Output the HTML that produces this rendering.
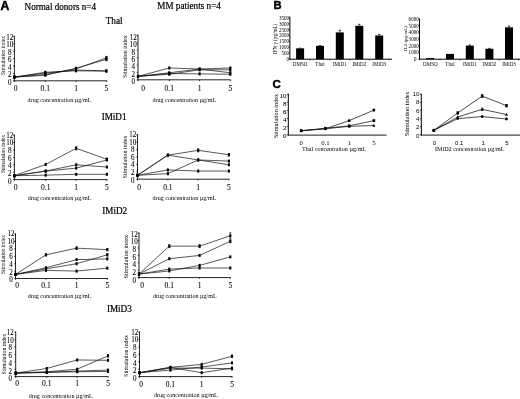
<!DOCTYPE html>
<html><head><meta charset="utf-8"><style>
html,body{margin:0;padding:0;background:#fff;width:520px;height:399px;overflow:hidden;}
svg{display:block;filter:blur(0.6px);}

</style></head><body>
<svg width="520" height="399" viewBox="0 0 520 399">
<rect width="520" height="399" fill="#fff"/>
<text x="0.60" y="9.60" font-size="12.2" font-family="'Liberation Sans', sans-serif" font-weight="bold" text-anchor="start" fill="#000" stroke="#000" stroke-width="0.5">A</text>
<text x="24.60" y="9.70" font-size="9.8" font-family="'Liberation Serif', serif" font-weight="normal" text-anchor="start" fill="#000"  stroke="#000" stroke-width="0.22" transform="translate(24.60 0) scale(0.93 1) translate(-24.60 0)">Normal donors n=4</text>
<text x="157.30" y="9.30" font-size="9.8" font-family="'Liberation Serif', serif" font-weight="normal" text-anchor="start" fill="#000"  stroke="#000" stroke-width="0.22" transform="translate(157.30 0) scale(0.935 1) translate(-157.30 0)">MM patients n=4</text>
<text x="105.80" y="23.60" font-size="9.6" font-family="'Liberation Serif', serif" font-weight="normal" text-anchor="start" fill="#000"  stroke="#000" stroke-width="0.22" transform="translate(105.80 0) scale(0.95 1) translate(-105.80 0)">Thal</text>
<text x="101.70" y="120.40" font-size="9.6" font-family="'Liberation Serif', serif" font-weight="normal" text-anchor="start" fill="#000"  stroke="#000" stroke-width="0.22" transform="translate(101.70 0) scale(0.95 1) translate(-101.70 0)">IMiD1</text>
<text x="102.30" y="213.70" font-size="9.6" font-family="'Liberation Serif', serif" font-weight="normal" text-anchor="start" fill="#000"  stroke="#000" stroke-width="0.22" transform="translate(102.30 0) scale(0.95 1) translate(-102.30 0)">IMiD2</text>
<text x="106.90" y="312.00" font-size="9.6" font-family="'Liberation Serif', serif" font-weight="normal" text-anchor="start" fill="#000"  stroke="#000" stroke-width="0.22" transform="translate(106.90 0) scale(0.95 1) translate(-106.90 0)">IMiD3</text>
<line x1="14.40" y1="35.60" x2="14.40" y2="81.30" stroke="#1a1a1a" stroke-width="0.95"/>
<line x1="13.90" y1="80.80" x2="106.90" y2="80.80" stroke="#1a1a1a" stroke-width="0.95"/>
<line x1="13.20" y1="80.80" x2="14.40" y2="80.80" stroke="#000" stroke-width="0.8"/>
<text x="9.80" y="84.90" font-size="7.8" font-family="'Liberation Serif', serif" font-weight="normal" text-anchor="middle" fill="#000"  stroke="#000" stroke-width="0.08" transform="translate(9.80 0) scale(0.9 1) translate(-9.80 0)">0</text>
<line x1="13.20" y1="73.40" x2="14.40" y2="73.40" stroke="#000" stroke-width="0.8"/>
<text x="9.80" y="77.40" font-size="7.8" font-family="'Liberation Serif', serif" font-weight="normal" text-anchor="middle" fill="#000"  stroke="#000" stroke-width="0.08" transform="translate(9.80 0) scale(0.9 1) translate(-9.80 0)">2</text>
<line x1="13.20" y1="66.00" x2="14.40" y2="66.00" stroke="#000" stroke-width="0.8"/>
<text x="9.80" y="69.90" font-size="7.8" font-family="'Liberation Serif', serif" font-weight="normal" text-anchor="middle" fill="#000"  stroke="#000" stroke-width="0.08" transform="translate(9.80 0) scale(0.9 1) translate(-9.80 0)">4</text>
<line x1="13.20" y1="58.60" x2="14.40" y2="58.60" stroke="#000" stroke-width="0.8"/>
<text x="9.80" y="62.40" font-size="7.8" font-family="'Liberation Serif', serif" font-weight="normal" text-anchor="middle" fill="#000"  stroke="#000" stroke-width="0.08" transform="translate(9.80 0) scale(0.9 1) translate(-9.80 0)">6</text>
<line x1="13.20" y1="51.20" x2="14.40" y2="51.20" stroke="#000" stroke-width="0.8"/>
<text x="9.80" y="54.90" font-size="7.8" font-family="'Liberation Serif', serif" font-weight="normal" text-anchor="middle" fill="#000"  stroke="#000" stroke-width="0.08" transform="translate(9.80 0) scale(0.9 1) translate(-9.80 0)">8</text>
<line x1="13.20" y1="43.80" x2="14.40" y2="43.80" stroke="#000" stroke-width="0.8"/>
<text x="9.80" y="47.40" font-size="7.8" font-family="'Liberation Serif', serif" font-weight="normal" text-anchor="middle" fill="#000"  stroke="#000" stroke-width="0.08" transform="translate(9.80 0) scale(0.9 1) translate(-9.80 0)">10</text>
<line x1="13.20" y1="36.40" x2="14.40" y2="36.40" stroke="#000" stroke-width="0.8"/>
<text x="9.80" y="39.90" font-size="7.8" font-family="'Liberation Serif', serif" font-weight="normal" text-anchor="middle" fill="#000"  stroke="#000" stroke-width="0.08" transform="translate(9.80 0) scale(0.9 1) translate(-9.80 0)">12</text>
<line x1="14.40" y1="80.80" x2="14.40" y2="82.00" stroke="#000" stroke-width="0.8"/>
<text x="15.70" y="91.10" font-size="7.5" font-family="'Liberation Serif', serif" font-weight="normal" text-anchor="middle" fill="#000"  stroke="#000" stroke-width="0.08">0</text>
<line x1="45.30" y1="80.80" x2="45.30" y2="82.00" stroke="#000" stroke-width="0.8"/>
<text x="45.30" y="91.10" font-size="7.5" font-family="'Liberation Serif', serif" font-weight="normal" text-anchor="middle" fill="#000"  stroke="#000" stroke-width="0.08">0.1</text>
<line x1="76.00" y1="80.80" x2="76.00" y2="82.00" stroke="#000" stroke-width="0.8"/>
<text x="76.00" y="91.10" font-size="7.5" font-family="'Liberation Serif', serif" font-weight="normal" text-anchor="middle" fill="#000"  stroke="#000" stroke-width="0.08">1</text>
<line x1="106.40" y1="80.80" x2="106.40" y2="82.00" stroke="#000" stroke-width="0.8"/>
<text x="106.40" y="91.10" font-size="7.5" font-family="'Liberation Serif', serif" font-weight="normal" text-anchor="middle" fill="#000"  stroke="#000" stroke-width="0.08">5</text>
<text x="59.50" y="101.90" font-size="6.5" font-family="'Liberation Serif', serif" font-weight="normal" text-anchor="middle" fill="#000"  transform="translate(59.50 0) scale(0.935 1) translate(-59.50 0)">drug concentration µg/mL</text>
<text x="5.00" y="55.50" font-size="5.45" font-family="'Liberation Serif', serif" font-weight="normal" text-anchor="middle" fill="#000" transform="rotate(-90 5.00 55.50)">Stimulation index</text>
<polyline points="14.40,77.10 45.30,75.25 76.00,68.22 106.40,59.34" fill="none" stroke="#111" stroke-width="0.7" stroke-linejoin="round"/>
<rect x="13.35" y="75.60" width="2.1" height="3.0" fill="#000"/>
<rect x="44.25" y="73.75" width="2.1" height="3.0" fill="#000"/>
<rect x="74.95" y="66.72" width="2.1" height="3.0" fill="#000"/>
<rect x="105.35" y="57.84" width="2.1" height="3.0" fill="#000"/>
<line x1="106.40" y1="57.86" x2="106.40" y2="60.82" stroke="#111" stroke-width="0.7"/>
<line x1="105.30" y1="57.86" x2="107.50" y2="57.86" stroke="#111" stroke-width="0.7"/>
<line x1="105.30" y1="60.82" x2="107.50" y2="60.82" stroke="#111" stroke-width="0.7"/>
<polyline points="14.40,77.10 45.30,74.51 76.00,68.96 106.40,57.86" fill="none" stroke="#111" stroke-width="0.7" stroke-linejoin="round"/>
<rect x="13.35" y="75.60" width="2.1" height="3.0" fill="#000"/>
<rect x="44.25" y="73.01" width="2.1" height="3.0" fill="#000"/>
<rect x="74.95" y="67.46" width="2.1" height="3.0" fill="#000"/>
<rect x="105.35" y="56.36" width="2.1" height="3.0" fill="#000"/>
<line x1="106.40" y1="56.38" x2="106.40" y2="59.34" stroke="#111" stroke-width="0.7"/>
<line x1="105.30" y1="56.38" x2="107.50" y2="56.38" stroke="#111" stroke-width="0.7"/>
<line x1="105.30" y1="59.34" x2="107.50" y2="59.34" stroke="#111" stroke-width="0.7"/>
<polyline points="14.40,77.10 45.30,72.29 76.00,70.81 106.40,71.18" fill="none" stroke="#111" stroke-width="0.7" stroke-linejoin="round"/>
<rect x="13.35" y="75.60" width="2.1" height="3.0" fill="#000"/>
<rect x="44.25" y="70.79" width="2.1" height="3.0" fill="#000"/>
<rect x="74.95" y="69.31" width="2.1" height="3.0" fill="#000"/>
<rect x="105.35" y="69.68" width="2.1" height="3.0" fill="#000"/>
<polyline points="14.40,77.10 45.30,73.03 76.00,70.07 106.40,70.81" fill="none" stroke="#111" stroke-width="0.7" stroke-linejoin="round"/>
<rect x="13.35" y="75.60" width="2.1" height="3.0" fill="#000"/>
<rect x="44.25" y="71.53" width="2.1" height="3.0" fill="#000"/>
<rect x="74.95" y="68.57" width="2.1" height="3.0" fill="#000"/>
<rect x="105.35" y="69.31" width="2.1" height="3.0" fill="#000"/>
<line x1="14.40" y1="134.40" x2="14.40" y2="180.10" stroke="#1a1a1a" stroke-width="0.95"/>
<line x1="13.90" y1="179.60" x2="107.40" y2="179.60" stroke="#1a1a1a" stroke-width="0.95"/>
<line x1="13.20" y1="179.60" x2="14.40" y2="179.60" stroke="#000" stroke-width="0.8"/>
<text x="9.80" y="183.70" font-size="7.8" font-family="'Liberation Serif', serif" font-weight="normal" text-anchor="middle" fill="#000"  stroke="#000" stroke-width="0.08" transform="translate(9.80 0) scale(0.9 1) translate(-9.80 0)">0</text>
<line x1="13.20" y1="172.20" x2="14.40" y2="172.20" stroke="#000" stroke-width="0.8"/>
<text x="9.80" y="176.02" font-size="7.8" font-family="'Liberation Serif', serif" font-weight="normal" text-anchor="middle" fill="#000"  stroke="#000" stroke-width="0.08" transform="translate(9.80 0) scale(0.9 1) translate(-9.80 0)">2</text>
<line x1="13.20" y1="164.80" x2="14.40" y2="164.80" stroke="#000" stroke-width="0.8"/>
<text x="9.80" y="168.33" font-size="7.8" font-family="'Liberation Serif', serif" font-weight="normal" text-anchor="middle" fill="#000"  stroke="#000" stroke-width="0.08" transform="translate(9.80 0) scale(0.9 1) translate(-9.80 0)">4</text>
<line x1="13.20" y1="157.40" x2="14.40" y2="157.40" stroke="#000" stroke-width="0.8"/>
<text x="9.80" y="160.65" font-size="7.8" font-family="'Liberation Serif', serif" font-weight="normal" text-anchor="middle" fill="#000"  stroke="#000" stroke-width="0.08" transform="translate(9.80 0) scale(0.9 1) translate(-9.80 0)">6</text>
<line x1="13.20" y1="150.00" x2="14.40" y2="150.00" stroke="#000" stroke-width="0.8"/>
<text x="9.80" y="152.97" font-size="7.8" font-family="'Liberation Serif', serif" font-weight="normal" text-anchor="middle" fill="#000"  stroke="#000" stroke-width="0.08" transform="translate(9.80 0) scale(0.9 1) translate(-9.80 0)">8</text>
<line x1="13.20" y1="142.60" x2="14.40" y2="142.60" stroke="#000" stroke-width="0.8"/>
<text x="9.80" y="145.28" font-size="7.8" font-family="'Liberation Serif', serif" font-weight="normal" text-anchor="middle" fill="#000"  stroke="#000" stroke-width="0.08" transform="translate(9.80 0) scale(0.9 1) translate(-9.80 0)">10</text>
<line x1="13.20" y1="135.20" x2="14.40" y2="135.20" stroke="#000" stroke-width="0.8"/>
<text x="9.80" y="137.60" font-size="7.8" font-family="'Liberation Serif', serif" font-weight="normal" text-anchor="middle" fill="#000"  stroke="#000" stroke-width="0.08" transform="translate(9.80 0) scale(0.9 1) translate(-9.80 0)">12</text>
<line x1="14.40" y1="179.60" x2="14.40" y2="180.80" stroke="#000" stroke-width="0.8"/>
<text x="15.70" y="189.70" font-size="7.5" font-family="'Liberation Serif', serif" font-weight="normal" text-anchor="middle" fill="#000"  stroke="#000" stroke-width="0.08">0</text>
<line x1="45.70" y1="179.60" x2="45.70" y2="180.80" stroke="#000" stroke-width="0.8"/>
<text x="45.70" y="189.70" font-size="7.5" font-family="'Liberation Serif', serif" font-weight="normal" text-anchor="middle" fill="#000"  stroke="#000" stroke-width="0.08">0.1</text>
<line x1="76.20" y1="179.60" x2="76.20" y2="180.80" stroke="#000" stroke-width="0.8"/>
<text x="76.20" y="189.70" font-size="7.5" font-family="'Liberation Serif', serif" font-weight="normal" text-anchor="middle" fill="#000"  stroke="#000" stroke-width="0.08">1</text>
<line x1="106.90" y1="179.60" x2="106.90" y2="180.80" stroke="#000" stroke-width="0.8"/>
<text x="106.90" y="189.70" font-size="7.5" font-family="'Liberation Serif', serif" font-weight="normal" text-anchor="middle" fill="#000"  stroke="#000" stroke-width="0.08">5</text>
<text x="59.60" y="200.20" font-size="6.5" font-family="'Liberation Serif', serif" font-weight="normal" text-anchor="middle" fill="#000"  transform="translate(59.60 0) scale(0.935 1) translate(-59.60 0)">drug concentration µg/mL</text>
<text x="4.70" y="154.00" font-size="5.36" font-family="'Liberation Serif', serif" font-weight="normal" text-anchor="middle" fill="#000" transform="rotate(-90 4.70 154.00)">Stimulation index</text>
<polyline points="14.40,175.72 45.70,164.43 76.20,148.33 106.90,159.25" fill="none" stroke="#111" stroke-width="0.7" stroke-linejoin="round"/>
<rect x="13.35" y="174.22" width="2.1" height="3.0" fill="#000"/>
<rect x="44.65" y="162.93" width="2.1" height="3.0" fill="#000"/>
<rect x="75.15" y="146.83" width="2.1" height="3.0" fill="#000"/>
<line x1="76.20" y1="146.67" x2="76.20" y2="150.00" stroke="#111" stroke-width="0.7"/>
<line x1="75.10" y1="146.67" x2="77.30" y2="146.67" stroke="#111" stroke-width="0.7"/>
<line x1="75.10" y1="150.00" x2="77.30" y2="150.00" stroke="#111" stroke-width="0.7"/>
<rect x="105.85" y="157.75" width="2.1" height="3.0" fill="#000"/>
<line x1="106.90" y1="158.14" x2="106.90" y2="160.36" stroke="#111" stroke-width="0.7"/>
<line x1="105.80" y1="158.14" x2="108.00" y2="158.14" stroke="#111" stroke-width="0.7"/>
<line x1="105.80" y1="160.36" x2="108.00" y2="160.36" stroke="#111" stroke-width="0.7"/>
<polyline points="14.40,175.72 45.70,171.09 76.20,164.80 106.90,167.02" fill="none" stroke="#111" stroke-width="0.7" stroke-linejoin="round"/>
<rect x="13.35" y="174.22" width="2.1" height="3.0" fill="#000"/>
<rect x="44.65" y="169.59" width="2.1" height="3.0" fill="#000"/>
<rect x="75.15" y="163.30" width="2.1" height="3.0" fill="#000"/>
<rect x="105.85" y="165.52" width="2.1" height="3.0" fill="#000"/>
<polyline points="14.40,175.72 45.70,171.09 76.20,168.13 106.90,159.99" fill="none" stroke="#111" stroke-width="0.7" stroke-linejoin="round"/>
<rect x="13.35" y="174.22" width="2.1" height="3.0" fill="#000"/>
<rect x="44.65" y="169.59" width="2.1" height="3.0" fill="#000"/>
<rect x="75.15" y="166.63" width="2.1" height="3.0" fill="#000"/>
<rect x="105.85" y="158.49" width="2.1" height="3.0" fill="#000"/>
<polyline points="14.40,175.72 45.70,175.16 76.20,174.31 106.90,174.31" fill="none" stroke="#111" stroke-width="0.7" stroke-linejoin="round"/>
<rect x="13.35" y="174.22" width="2.1" height="3.0" fill="#000"/>
<rect x="44.65" y="173.66" width="2.1" height="3.0" fill="#000"/>
<rect x="75.15" y="172.81" width="2.1" height="3.0" fill="#000"/>
<rect x="105.85" y="172.81" width="2.1" height="3.0" fill="#000"/>
<line x1="15.50" y1="233.30" x2="15.50" y2="279.00" stroke="#1a1a1a" stroke-width="0.95"/>
<line x1="15.00" y1="278.50" x2="107.80" y2="278.50" stroke="#1a1a1a" stroke-width="0.95"/>
<line x1="14.30" y1="278.50" x2="15.50" y2="278.50" stroke="#000" stroke-width="0.8"/>
<text x="10.90" y="282.50" font-size="7.8" font-family="'Liberation Serif', serif" font-weight="normal" text-anchor="middle" fill="#000"  stroke="#000" stroke-width="0.08" transform="translate(10.90 0) scale(0.9 1) translate(-10.90 0)">0</text>
<line x1="14.30" y1="271.10" x2="15.50" y2="271.10" stroke="#000" stroke-width="0.8"/>
<text x="10.90" y="274.75" font-size="7.8" font-family="'Liberation Serif', serif" font-weight="normal" text-anchor="middle" fill="#000"  stroke="#000" stroke-width="0.08" transform="translate(10.90 0) scale(0.9 1) translate(-10.90 0)">2</text>
<line x1="14.30" y1="263.70" x2="15.50" y2="263.70" stroke="#000" stroke-width="0.8"/>
<text x="10.90" y="267.00" font-size="7.8" font-family="'Liberation Serif', serif" font-weight="normal" text-anchor="middle" fill="#000"  stroke="#000" stroke-width="0.08" transform="translate(10.90 0) scale(0.9 1) translate(-10.90 0)">4</text>
<line x1="14.30" y1="256.30" x2="15.50" y2="256.30" stroke="#000" stroke-width="0.8"/>
<text x="10.90" y="259.25" font-size="7.8" font-family="'Liberation Serif', serif" font-weight="normal" text-anchor="middle" fill="#000"  stroke="#000" stroke-width="0.08" transform="translate(10.90 0) scale(0.9 1) translate(-10.90 0)">6</text>
<line x1="14.30" y1="248.90" x2="15.50" y2="248.90" stroke="#000" stroke-width="0.8"/>
<text x="10.90" y="251.50" font-size="7.8" font-family="'Liberation Serif', serif" font-weight="normal" text-anchor="middle" fill="#000"  stroke="#000" stroke-width="0.08" transform="translate(10.90 0) scale(0.9 1) translate(-10.90 0)">8</text>
<line x1="14.30" y1="241.50" x2="15.50" y2="241.50" stroke="#000" stroke-width="0.8"/>
<text x="10.90" y="243.75" font-size="7.8" font-family="'Liberation Serif', serif" font-weight="normal" text-anchor="middle" fill="#000"  stroke="#000" stroke-width="0.08" transform="translate(10.90 0) scale(0.9 1) translate(-10.90 0)">10</text>
<line x1="14.30" y1="234.10" x2="15.50" y2="234.10" stroke="#000" stroke-width="0.8"/>
<text x="10.90" y="236.00" font-size="7.8" font-family="'Liberation Serif', serif" font-weight="normal" text-anchor="middle" fill="#000"  stroke="#000" stroke-width="0.08" transform="translate(10.90 0) scale(0.9 1) translate(-10.90 0)">12</text>
<line x1="15.50" y1="278.50" x2="15.50" y2="279.70" stroke="#000" stroke-width="0.8"/>
<text x="17.10" y="287.80" font-size="7.5" font-family="'Liberation Serif', serif" font-weight="normal" text-anchor="middle" fill="#000"  stroke="#000" stroke-width="0.08">0</text>
<line x1="46.00" y1="278.50" x2="46.00" y2="279.70" stroke="#000" stroke-width="0.8"/>
<text x="46.00" y="287.80" font-size="7.5" font-family="'Liberation Serif', serif" font-weight="normal" text-anchor="middle" fill="#000"  stroke="#000" stroke-width="0.08">0.1</text>
<line x1="76.60" y1="278.50" x2="76.60" y2="279.70" stroke="#000" stroke-width="0.8"/>
<text x="76.60" y="287.80" font-size="7.5" font-family="'Liberation Serif', serif" font-weight="normal" text-anchor="middle" fill="#000"  stroke="#000" stroke-width="0.08">1</text>
<line x1="107.30" y1="278.50" x2="107.30" y2="279.70" stroke="#000" stroke-width="0.8"/>
<text x="107.30" y="287.80" font-size="7.5" font-family="'Liberation Serif', serif" font-weight="normal" text-anchor="middle" fill="#000"  stroke="#000" stroke-width="0.08">5</text>
<text x="59.60" y="298.20" font-size="6.5" font-family="'Liberation Serif', serif" font-weight="normal" text-anchor="middle" fill="#000"  transform="translate(59.60 0) scale(0.935 1) translate(-59.60 0)">drug concentration µg/mL</text>
<text x="5.50" y="254.60" font-size="5.46" font-family="'Liberation Serif', serif" font-weight="normal" text-anchor="middle" fill="#000" transform="rotate(-90 5.50 254.60)">Stimulation index</text>
<polyline points="15.50,274.43 46.00,254.82 76.60,248.16 107.30,249.64" fill="none" stroke="#111" stroke-width="0.7" stroke-linejoin="round"/>
<rect x="14.45" y="272.93" width="2.1" height="3.0" fill="#000"/>
<rect x="44.95" y="253.32" width="2.1" height="3.0" fill="#000"/>
<line x1="46.00" y1="253.71" x2="46.00" y2="255.93" stroke="#111" stroke-width="0.7"/>
<line x1="44.90" y1="253.71" x2="47.10" y2="253.71" stroke="#111" stroke-width="0.7"/>
<line x1="44.90" y1="255.93" x2="47.10" y2="255.93" stroke="#111" stroke-width="0.7"/>
<rect x="75.55" y="246.66" width="2.1" height="3.0" fill="#000"/>
<line x1="76.60" y1="246.87" x2="76.60" y2="249.45" stroke="#111" stroke-width="0.7"/>
<line x1="75.50" y1="246.87" x2="77.70" y2="246.87" stroke="#111" stroke-width="0.7"/>
<line x1="75.50" y1="249.45" x2="77.70" y2="249.45" stroke="#111" stroke-width="0.7"/>
<rect x="106.25" y="248.14" width="2.1" height="3.0" fill="#000"/>
<line x1="107.30" y1="248.53" x2="107.30" y2="250.75" stroke="#111" stroke-width="0.7"/>
<line x1="106.20" y1="248.53" x2="108.40" y2="248.53" stroke="#111" stroke-width="0.7"/>
<line x1="106.20" y1="250.75" x2="108.40" y2="250.75" stroke="#111" stroke-width="0.7"/>
<polyline points="15.50,274.43 46.00,267.77 76.60,259.63 107.30,258.89" fill="none" stroke="#111" stroke-width="0.7" stroke-linejoin="round"/>
<rect x="14.45" y="272.93" width="2.1" height="3.0" fill="#000"/>
<rect x="44.95" y="266.27" width="2.1" height="3.0" fill="#000"/>
<rect x="75.55" y="258.13" width="2.1" height="3.0" fill="#000"/>
<rect x="106.25" y="257.39" width="2.1" height="3.0" fill="#000"/>
<polyline points="15.50,274.43 46.00,268.88 76.60,263.70 107.30,254.82" fill="none" stroke="#111" stroke-width="0.7" stroke-linejoin="round"/>
<rect x="14.45" y="272.93" width="2.1" height="3.0" fill="#000"/>
<rect x="44.95" y="267.38" width="2.1" height="3.0" fill="#000"/>
<rect x="75.55" y="262.20" width="2.1" height="3.0" fill="#000"/>
<rect x="106.25" y="253.32" width="2.1" height="3.0" fill="#000"/>
<line x1="107.30" y1="253.71" x2="107.30" y2="255.93" stroke="#111" stroke-width="0.7"/>
<line x1="106.20" y1="253.71" x2="108.40" y2="253.71" stroke="#111" stroke-width="0.7"/>
<line x1="106.20" y1="255.93" x2="108.40" y2="255.93" stroke="#111" stroke-width="0.7"/>
<polyline points="15.50,274.43 46.00,270.36 76.60,271.10 107.30,268.14" fill="none" stroke="#111" stroke-width="0.7" stroke-linejoin="round"/>
<rect x="14.45" y="272.93" width="2.1" height="3.0" fill="#000"/>
<rect x="44.95" y="268.86" width="2.1" height="3.0" fill="#000"/>
<rect x="75.55" y="269.60" width="2.1" height="3.0" fill="#000"/>
<rect x="106.25" y="266.64" width="2.1" height="3.0" fill="#000"/>
<line x1="15.70" y1="331.40" x2="15.70" y2="377.10" stroke="#1a1a1a" stroke-width="0.95"/>
<line x1="15.20" y1="376.60" x2="108.50" y2="376.60" stroke="#1a1a1a" stroke-width="0.95"/>
<line x1="14.50" y1="376.60" x2="15.70" y2="376.60" stroke="#000" stroke-width="0.8"/>
<text x="10.30" y="381.40" font-size="7.8" font-family="'Liberation Serif', serif" font-weight="normal" text-anchor="middle" fill="#000"  stroke="#000" stroke-width="0.08" transform="translate(10.30 0) scale(0.9 1) translate(-10.30 0)">0</text>
<line x1="14.50" y1="369.20" x2="15.70" y2="369.20" stroke="#000" stroke-width="0.8"/>
<text x="10.30" y="373.67" font-size="7.8" font-family="'Liberation Serif', serif" font-weight="normal" text-anchor="middle" fill="#000"  stroke="#000" stroke-width="0.08" transform="translate(10.30 0) scale(0.9 1) translate(-10.30 0)">2</text>
<line x1="14.50" y1="361.80" x2="15.70" y2="361.80" stroke="#000" stroke-width="0.8"/>
<text x="10.30" y="365.93" font-size="7.8" font-family="'Liberation Serif', serif" font-weight="normal" text-anchor="middle" fill="#000"  stroke="#000" stroke-width="0.08" transform="translate(10.30 0) scale(0.9 1) translate(-10.30 0)">4</text>
<line x1="14.50" y1="354.40" x2="15.70" y2="354.40" stroke="#000" stroke-width="0.8"/>
<text x="10.30" y="358.20" font-size="7.8" font-family="'Liberation Serif', serif" font-weight="normal" text-anchor="middle" fill="#000"  stroke="#000" stroke-width="0.08" transform="translate(10.30 0) scale(0.9 1) translate(-10.30 0)">6</text>
<line x1="14.50" y1="347.00" x2="15.70" y2="347.00" stroke="#000" stroke-width="0.8"/>
<text x="10.30" y="350.47" font-size="7.8" font-family="'Liberation Serif', serif" font-weight="normal" text-anchor="middle" fill="#000"  stroke="#000" stroke-width="0.08" transform="translate(10.30 0) scale(0.9 1) translate(-10.30 0)">8</text>
<line x1="14.50" y1="339.60" x2="15.70" y2="339.60" stroke="#000" stroke-width="0.8"/>
<text x="10.30" y="342.73" font-size="7.8" font-family="'Liberation Serif', serif" font-weight="normal" text-anchor="middle" fill="#000"  stroke="#000" stroke-width="0.08" transform="translate(10.30 0) scale(0.9 1) translate(-10.30 0)">10</text>
<line x1="14.50" y1="332.20" x2="15.70" y2="332.20" stroke="#000" stroke-width="0.8"/>
<text x="10.30" y="335.00" font-size="7.8" font-family="'Liberation Serif', serif" font-weight="normal" text-anchor="middle" fill="#000"  stroke="#000" stroke-width="0.08" transform="translate(10.30 0) scale(0.9 1) translate(-10.30 0)">12</text>
<line x1="15.70" y1="376.60" x2="15.70" y2="377.80" stroke="#000" stroke-width="0.8"/>
<text x="17.10" y="386.10" font-size="7.5" font-family="'Liberation Serif', serif" font-weight="normal" text-anchor="middle" fill="#000"  stroke="#000" stroke-width="0.08">0</text>
<line x1="46.80" y1="376.60" x2="46.80" y2="377.80" stroke="#000" stroke-width="0.8"/>
<text x="46.80" y="386.10" font-size="7.5" font-family="'Liberation Serif', serif" font-weight="normal" text-anchor="middle" fill="#000"  stroke="#000" stroke-width="0.08">0.1</text>
<line x1="77.20" y1="376.60" x2="77.20" y2="377.80" stroke="#000" stroke-width="0.8"/>
<text x="77.20" y="386.10" font-size="7.5" font-family="'Liberation Serif', serif" font-weight="normal" text-anchor="middle" fill="#000"  stroke="#000" stroke-width="0.08">1</text>
<line x1="108.00" y1="376.60" x2="108.00" y2="377.80" stroke="#000" stroke-width="0.8"/>
<text x="108.00" y="386.10" font-size="7.5" font-family="'Liberation Serif', serif" font-weight="normal" text-anchor="middle" fill="#000"  stroke="#000" stroke-width="0.08">5</text>
<text x="60.70" y="397.80" font-size="6.5" font-family="'Liberation Serif', serif" font-weight="normal" text-anchor="middle" fill="#000"  transform="translate(60.70 0) scale(0.935 1) translate(-60.70 0)">drug concentration µg/mL</text>
<text x="5.90" y="354.00" font-size="5.74" font-family="'Liberation Serif', serif" font-weight="normal" text-anchor="middle" fill="#000" transform="rotate(-90 5.90 354.00)">Stimulation index</text>
<polyline points="15.70,373.09 46.80,368.46 77.20,359.95 108.00,360.32" fill="none" stroke="#111" stroke-width="0.7" stroke-linejoin="round"/>
<rect x="14.65" y="371.59" width="2.1" height="3.0" fill="#000"/>
<rect x="45.75" y="366.96" width="2.1" height="3.0" fill="#000"/>
<rect x="76.15" y="358.45" width="2.1" height="3.0" fill="#000"/>
<rect x="106.95" y="358.82" width="2.1" height="3.0" fill="#000"/>
<polyline points="15.70,373.09 46.80,371.79 77.20,369.20 108.00,355.88" fill="none" stroke="#111" stroke-width="0.7" stroke-linejoin="round"/>
<rect x="14.65" y="371.59" width="2.1" height="3.0" fill="#000"/>
<rect x="45.75" y="370.29" width="2.1" height="3.0" fill="#000"/>
<rect x="76.15" y="367.70" width="2.1" height="3.0" fill="#000"/>
<rect x="106.95" y="354.38" width="2.1" height="3.0" fill="#000"/>
<line x1="108.00" y1="354.77" x2="108.00" y2="356.99" stroke="#111" stroke-width="0.7"/>
<line x1="106.90" y1="354.77" x2="109.10" y2="354.77" stroke="#111" stroke-width="0.7"/>
<line x1="106.90" y1="356.99" x2="109.10" y2="356.99" stroke="#111" stroke-width="0.7"/>
<polyline points="15.70,373.09 46.80,372.53 77.20,371.05 108.00,370.12" fill="none" stroke="#111" stroke-width="0.7" stroke-linejoin="round"/>
<rect x="14.65" y="371.59" width="2.1" height="3.0" fill="#000"/>
<rect x="45.75" y="371.03" width="2.1" height="3.0" fill="#000"/>
<rect x="76.15" y="369.55" width="2.1" height="3.0" fill="#000"/>
<rect x="106.95" y="368.62" width="2.1" height="3.0" fill="#000"/>
<polyline points="15.70,373.09 46.80,372.16 77.20,371.79 108.00,371.42" fill="none" stroke="#111" stroke-width="0.7" stroke-linejoin="round"/>
<rect x="14.65" y="371.59" width="2.1" height="3.0" fill="#000"/>
<rect x="45.75" y="370.66" width="2.1" height="3.0" fill="#000"/>
<rect x="76.15" y="370.29" width="2.1" height="3.0" fill="#000"/>
<rect x="106.95" y="369.92" width="2.1" height="3.0" fill="#000"/>
<line x1="138.00" y1="34.60" x2="138.00" y2="80.30" stroke="#1a1a1a" stroke-width="0.95"/>
<line x1="137.50" y1="79.80" x2="230.80" y2="79.80" stroke="#1a1a1a" stroke-width="0.95"/>
<line x1="136.80" y1="79.80" x2="138.00" y2="79.80" stroke="#000" stroke-width="0.8"/>
<text x="133.20" y="84.10" font-size="7.8" font-family="'Liberation Serif', serif" font-weight="normal" text-anchor="middle" fill="#000"  stroke="#000" stroke-width="0.08" transform="translate(133.20 0) scale(0.9 1) translate(-133.20 0)">0</text>
<line x1="136.80" y1="72.40" x2="138.00" y2="72.40" stroke="#000" stroke-width="0.8"/>
<text x="133.20" y="76.77" font-size="7.8" font-family="'Liberation Serif', serif" font-weight="normal" text-anchor="middle" fill="#000"  stroke="#000" stroke-width="0.08" transform="translate(133.20 0) scale(0.9 1) translate(-133.20 0)">2</text>
<line x1="136.80" y1="65.00" x2="138.00" y2="65.00" stroke="#000" stroke-width="0.8"/>
<text x="133.20" y="69.43" font-size="7.8" font-family="'Liberation Serif', serif" font-weight="normal" text-anchor="middle" fill="#000"  stroke="#000" stroke-width="0.08" transform="translate(133.20 0) scale(0.9 1) translate(-133.20 0)">4</text>
<line x1="136.80" y1="57.60" x2="138.00" y2="57.60" stroke="#000" stroke-width="0.8"/>
<text x="133.20" y="62.10" font-size="7.8" font-family="'Liberation Serif', serif" font-weight="normal" text-anchor="middle" fill="#000"  stroke="#000" stroke-width="0.08" transform="translate(133.20 0) scale(0.9 1) translate(-133.20 0)">6</text>
<line x1="136.80" y1="50.20" x2="138.00" y2="50.20" stroke="#000" stroke-width="0.8"/>
<text x="133.20" y="54.77" font-size="7.8" font-family="'Liberation Serif', serif" font-weight="normal" text-anchor="middle" fill="#000"  stroke="#000" stroke-width="0.08" transform="translate(133.20 0) scale(0.9 1) translate(-133.20 0)">8</text>
<line x1="136.80" y1="42.80" x2="138.00" y2="42.80" stroke="#000" stroke-width="0.8"/>
<text x="133.20" y="47.43" font-size="7.8" font-family="'Liberation Serif', serif" font-weight="normal" text-anchor="middle" fill="#000"  stroke="#000" stroke-width="0.08" transform="translate(133.20 0) scale(0.9 1) translate(-133.20 0)">10</text>
<line x1="136.80" y1="35.40" x2="138.00" y2="35.40" stroke="#000" stroke-width="0.8"/>
<text x="133.20" y="40.10" font-size="7.8" font-family="'Liberation Serif', serif" font-weight="normal" text-anchor="middle" fill="#000"  stroke="#000" stroke-width="0.08" transform="translate(133.20 0) scale(0.9 1) translate(-133.20 0)">12</text>
<line x1="138.00" y1="79.80" x2="138.00" y2="81.00" stroke="#000" stroke-width="0.8"/>
<text x="143.00" y="90.60" font-size="7.5" font-family="'Liberation Serif', serif" font-weight="normal" text-anchor="middle" fill="#000"  stroke="#000" stroke-width="0.08">0</text>
<line x1="169.30" y1="79.80" x2="169.30" y2="81.00" stroke="#000" stroke-width="0.8"/>
<text x="169.30" y="90.60" font-size="7.5" font-family="'Liberation Serif', serif" font-weight="normal" text-anchor="middle" fill="#000"  stroke="#000" stroke-width="0.08">0.1</text>
<line x1="199.60" y1="79.80" x2="199.60" y2="81.00" stroke="#000" stroke-width="0.8"/>
<text x="199.60" y="90.60" font-size="7.5" font-family="'Liberation Serif', serif" font-weight="normal" text-anchor="middle" fill="#000"  stroke="#000" stroke-width="0.08">1</text>
<line x1="230.30" y1="79.80" x2="230.30" y2="81.00" stroke="#000" stroke-width="0.8"/>
<text x="230.30" y="90.60" font-size="7.5" font-family="'Liberation Serif', serif" font-weight="normal" text-anchor="middle" fill="#000"  stroke="#000" stroke-width="0.08">5</text>
<text x="184.30" y="101.60" font-size="6.5" font-family="'Liberation Serif', serif" font-weight="normal" text-anchor="middle" fill="#000"  transform="translate(184.30 0) scale(0.935 1) translate(-184.30 0)">drug concentration µg/mL</text>
<text x="127.50" y="56.70" font-size="5.99" font-family="'Liberation Serif', serif" font-weight="normal" text-anchor="middle" fill="#000" transform="rotate(-90 127.50 56.70)">Stimulation index</text>
<polyline points="138.00,76.40 169.30,67.96 199.60,69.07 230.30,67.96" fill="none" stroke="#111" stroke-width="0.7" stroke-linejoin="round"/>
<rect x="136.95" y="74.90" width="2.1" height="3.0" fill="#000"/>
<rect x="168.25" y="66.46" width="2.1" height="3.0" fill="#000"/>
<rect x="198.55" y="67.57" width="2.1" height="3.0" fill="#000"/>
<rect x="229.25" y="66.46" width="2.1" height="3.0" fill="#000"/>
<polyline points="138.00,76.40 169.30,72.77 199.60,69.07 230.30,72.77" fill="none" stroke="#111" stroke-width="0.7" stroke-linejoin="round"/>
<rect x="136.95" y="74.90" width="2.1" height="3.0" fill="#000"/>
<rect x="168.25" y="71.27" width="2.1" height="3.0" fill="#000"/>
<rect x="198.55" y="67.57" width="2.1" height="3.0" fill="#000"/>
<rect x="229.25" y="71.27" width="2.1" height="3.0" fill="#000"/>
<polyline points="138.00,76.40 169.30,74.25 199.60,69.81 230.30,69.81" fill="none" stroke="#111" stroke-width="0.7" stroke-linejoin="round"/>
<rect x="136.95" y="74.90" width="2.1" height="3.0" fill="#000"/>
<rect x="168.25" y="72.75" width="2.1" height="3.0" fill="#000"/>
<rect x="198.55" y="68.31" width="2.1" height="3.0" fill="#000"/>
<rect x="229.25" y="68.31" width="2.1" height="3.0" fill="#000"/>
<polyline points="138.00,76.40 169.30,73.51 199.60,73.88 230.30,74.25" fill="none" stroke="#111" stroke-width="0.7" stroke-linejoin="round"/>
<rect x="136.95" y="74.90" width="2.1" height="3.0" fill="#000"/>
<rect x="168.25" y="72.01" width="2.1" height="3.0" fill="#000"/>
<rect x="198.55" y="72.38" width="2.1" height="3.0" fill="#000"/>
<rect x="229.25" y="72.75" width="2.1" height="3.0" fill="#000"/>
<line x1="137.50" y1="134.00" x2="137.50" y2="179.70" stroke="#1a1a1a" stroke-width="0.95"/>
<line x1="137.00" y1="179.20" x2="229.40" y2="179.20" stroke="#1a1a1a" stroke-width="0.95"/>
<line x1="136.30" y1="179.20" x2="137.50" y2="179.20" stroke="#000" stroke-width="0.8"/>
<text x="132.70" y="182.70" font-size="7.8" font-family="'Liberation Serif', serif" font-weight="normal" text-anchor="middle" fill="#000"  stroke="#000" stroke-width="0.08" transform="translate(132.70 0) scale(0.9 1) translate(-132.70 0)">0</text>
<line x1="136.30" y1="171.80" x2="137.50" y2="171.80" stroke="#000" stroke-width="0.8"/>
<text x="132.70" y="175.08" font-size="7.8" font-family="'Liberation Serif', serif" font-weight="normal" text-anchor="middle" fill="#000"  stroke="#000" stroke-width="0.08" transform="translate(132.70 0) scale(0.9 1) translate(-132.70 0)">2</text>
<line x1="136.30" y1="164.40" x2="137.50" y2="164.40" stroke="#000" stroke-width="0.8"/>
<text x="132.70" y="167.47" font-size="7.8" font-family="'Liberation Serif', serif" font-weight="normal" text-anchor="middle" fill="#000"  stroke="#000" stroke-width="0.08" transform="translate(132.70 0) scale(0.9 1) translate(-132.70 0)">4</text>
<line x1="136.30" y1="157.00" x2="137.50" y2="157.00" stroke="#000" stroke-width="0.8"/>
<text x="132.70" y="159.85" font-size="7.8" font-family="'Liberation Serif', serif" font-weight="normal" text-anchor="middle" fill="#000"  stroke="#000" stroke-width="0.08" transform="translate(132.70 0) scale(0.9 1) translate(-132.70 0)">6</text>
<line x1="136.30" y1="149.60" x2="137.50" y2="149.60" stroke="#000" stroke-width="0.8"/>
<text x="132.70" y="152.23" font-size="7.8" font-family="'Liberation Serif', serif" font-weight="normal" text-anchor="middle" fill="#000"  stroke="#000" stroke-width="0.08" transform="translate(132.70 0) scale(0.9 1) translate(-132.70 0)">8</text>
<line x1="136.30" y1="142.20" x2="137.50" y2="142.20" stroke="#000" stroke-width="0.8"/>
<text x="132.70" y="144.62" font-size="7.8" font-family="'Liberation Serif', serif" font-weight="normal" text-anchor="middle" fill="#000"  stroke="#000" stroke-width="0.08" transform="translate(132.70 0) scale(0.9 1) translate(-132.70 0)">10</text>
<line x1="136.30" y1="134.80" x2="137.50" y2="134.80" stroke="#000" stroke-width="0.8"/>
<text x="132.70" y="137.00" font-size="7.8" font-family="'Liberation Serif', serif" font-weight="normal" text-anchor="middle" fill="#000"  stroke="#000" stroke-width="0.08" transform="translate(132.70 0) scale(0.9 1) translate(-132.70 0)">12</text>
<line x1="137.50" y1="179.20" x2="137.50" y2="180.40" stroke="#000" stroke-width="0.8"/>
<text x="139.00" y="189.60" font-size="7.5" font-family="'Liberation Serif', serif" font-weight="normal" text-anchor="middle" fill="#000"  stroke="#000" stroke-width="0.08">0</text>
<line x1="167.90" y1="179.20" x2="167.90" y2="180.40" stroke="#000" stroke-width="0.8"/>
<text x="167.90" y="189.60" font-size="7.5" font-family="'Liberation Serif', serif" font-weight="normal" text-anchor="middle" fill="#000"  stroke="#000" stroke-width="0.08">0.1</text>
<line x1="198.20" y1="179.20" x2="198.20" y2="180.40" stroke="#000" stroke-width="0.8"/>
<text x="198.20" y="189.60" font-size="7.5" font-family="'Liberation Serif', serif" font-weight="normal" text-anchor="middle" fill="#000"  stroke="#000" stroke-width="0.08">1</text>
<line x1="228.90" y1="179.20" x2="228.90" y2="180.40" stroke="#000" stroke-width="0.8"/>
<text x="228.90" y="189.60" font-size="7.5" font-family="'Liberation Serif', serif" font-weight="normal" text-anchor="middle" fill="#000"  stroke="#000" stroke-width="0.08">5</text>
<text x="184.50" y="199.70" font-size="6.5" font-family="'Liberation Serif', serif" font-weight="normal" text-anchor="middle" fill="#000"  transform="translate(184.50 0) scale(0.935 1) translate(-184.50 0)">drug concentration µg/mL</text>
<text x="126.90" y="157.00" font-size="6.0" font-family="'Liberation Serif', serif" font-weight="normal" text-anchor="middle" fill="#000" transform="rotate(-90 126.90 157.00)">Stimulation index</text>
<polyline points="137.50,175.31 167.90,155.15 198.20,150.34 228.90,154.78" fill="none" stroke="#111" stroke-width="0.7" stroke-linejoin="round"/>
<rect x="136.45" y="173.81" width="2.1" height="3.0" fill="#000"/>
<rect x="166.85" y="153.65" width="2.1" height="3.0" fill="#000"/>
<rect x="197.15" y="148.84" width="2.1" height="3.0" fill="#000"/>
<line x1="198.20" y1="148.86" x2="198.20" y2="151.82" stroke="#111" stroke-width="0.7"/>
<line x1="197.10" y1="148.86" x2="199.30" y2="148.86" stroke="#111" stroke-width="0.7"/>
<line x1="197.10" y1="151.82" x2="199.30" y2="151.82" stroke="#111" stroke-width="0.7"/>
<rect x="227.85" y="153.28" width="2.1" height="3.0" fill="#000"/>
<line x1="228.90" y1="153.49" x2="228.90" y2="156.07" stroke="#111" stroke-width="0.7"/>
<line x1="227.80" y1="153.49" x2="230.00" y2="153.49" stroke="#111" stroke-width="0.7"/>
<line x1="227.80" y1="156.07" x2="230.00" y2="156.07" stroke="#111" stroke-width="0.7"/>
<polyline points="137.50,175.31 167.90,155.15 198.20,159.96 228.90,164.77" fill="none" stroke="#111" stroke-width="0.7" stroke-linejoin="round"/>
<rect x="136.45" y="173.81" width="2.1" height="3.0" fill="#000"/>
<rect x="166.85" y="153.65" width="2.1" height="3.0" fill="#000"/>
<rect x="197.15" y="158.46" width="2.1" height="3.0" fill="#000"/>
<rect x="227.85" y="163.27" width="2.1" height="3.0" fill="#000"/>
<polyline points="137.50,175.31 167.90,173.65 198.20,159.96 228.90,161.07" fill="none" stroke="#111" stroke-width="0.7" stroke-linejoin="round"/>
<rect x="136.45" y="173.81" width="2.1" height="3.0" fill="#000"/>
<rect x="166.85" y="172.15" width="2.1" height="3.0" fill="#000"/>
<rect x="197.15" y="158.46" width="2.1" height="3.0" fill="#000"/>
<rect x="227.85" y="159.57" width="2.1" height="3.0" fill="#000"/>
<polyline points="137.50,175.31 167.90,169.95 198.20,171.06 228.90,171.06" fill="none" stroke="#111" stroke-width="0.7" stroke-linejoin="round"/>
<rect x="136.45" y="173.81" width="2.1" height="3.0" fill="#000"/>
<rect x="166.85" y="168.45" width="2.1" height="3.0" fill="#000"/>
<rect x="197.15" y="169.56" width="2.1" height="3.0" fill="#000"/>
<rect x="227.85" y="169.56" width="2.1" height="3.0" fill="#000"/>
<line x1="139.00" y1="232.40" x2="139.00" y2="278.10" stroke="#1a1a1a" stroke-width="0.95"/>
<line x1="138.50" y1="277.60" x2="230.80" y2="277.60" stroke="#1a1a1a" stroke-width="0.95"/>
<line x1="137.80" y1="277.60" x2="139.00" y2="277.60" stroke="#000" stroke-width="0.8"/>
<text x="134.20" y="282.70" font-size="7.8" font-family="'Liberation Serif', serif" font-weight="normal" text-anchor="middle" fill="#000"  stroke="#000" stroke-width="0.08" transform="translate(134.20 0) scale(0.9 1) translate(-134.20 0)">0</text>
<line x1="137.80" y1="270.20" x2="139.00" y2="270.20" stroke="#000" stroke-width="0.8"/>
<text x="134.20" y="275.02" font-size="7.8" font-family="'Liberation Serif', serif" font-weight="normal" text-anchor="middle" fill="#000"  stroke="#000" stroke-width="0.08" transform="translate(134.20 0) scale(0.9 1) translate(-134.20 0)">2</text>
<line x1="137.80" y1="262.80" x2="139.00" y2="262.80" stroke="#000" stroke-width="0.8"/>
<text x="134.20" y="267.33" font-size="7.8" font-family="'Liberation Serif', serif" font-weight="normal" text-anchor="middle" fill="#000"  stroke="#000" stroke-width="0.08" transform="translate(134.20 0) scale(0.9 1) translate(-134.20 0)">4</text>
<line x1="137.80" y1="255.40" x2="139.00" y2="255.40" stroke="#000" stroke-width="0.8"/>
<text x="134.20" y="259.65" font-size="7.8" font-family="'Liberation Serif', serif" font-weight="normal" text-anchor="middle" fill="#000"  stroke="#000" stroke-width="0.08" transform="translate(134.20 0) scale(0.9 1) translate(-134.20 0)">6</text>
<line x1="137.80" y1="248.00" x2="139.00" y2="248.00" stroke="#000" stroke-width="0.8"/>
<text x="134.20" y="251.97" font-size="7.8" font-family="'Liberation Serif', serif" font-weight="normal" text-anchor="middle" fill="#000"  stroke="#000" stroke-width="0.08" transform="translate(134.20 0) scale(0.9 1) translate(-134.20 0)">8</text>
<line x1="137.80" y1="240.60" x2="139.00" y2="240.60" stroke="#000" stroke-width="0.8"/>
<text x="134.20" y="244.28" font-size="7.8" font-family="'Liberation Serif', serif" font-weight="normal" text-anchor="middle" fill="#000"  stroke="#000" stroke-width="0.08" transform="translate(134.20 0) scale(0.9 1) translate(-134.20 0)">10</text>
<line x1="137.80" y1="233.20" x2="139.00" y2="233.20" stroke="#000" stroke-width="0.8"/>
<text x="134.20" y="236.60" font-size="7.8" font-family="'Liberation Serif', serif" font-weight="normal" text-anchor="middle" fill="#000"  stroke="#000" stroke-width="0.08" transform="translate(134.20 0) scale(0.9 1) translate(-134.20 0)">12</text>
<line x1="139.00" y1="277.60" x2="139.00" y2="278.80" stroke="#000" stroke-width="0.8"/>
<text x="142.10" y="287.60" font-size="7.5" font-family="'Liberation Serif', serif" font-weight="normal" text-anchor="middle" fill="#000"  stroke="#000" stroke-width="0.08">0</text>
<line x1="169.30" y1="277.60" x2="169.30" y2="278.80" stroke="#000" stroke-width="0.8"/>
<text x="169.30" y="287.60" font-size="7.5" font-family="'Liberation Serif', serif" font-weight="normal" text-anchor="middle" fill="#000"  stroke="#000" stroke-width="0.08">0.1</text>
<line x1="199.60" y1="277.60" x2="199.60" y2="278.80" stroke="#000" stroke-width="0.8"/>
<text x="199.60" y="287.60" font-size="7.5" font-family="'Liberation Serif', serif" font-weight="normal" text-anchor="middle" fill="#000"  stroke="#000" stroke-width="0.08">1</text>
<line x1="230.30" y1="277.60" x2="230.30" y2="278.80" stroke="#000" stroke-width="0.8"/>
<text x="230.30" y="287.60" font-size="7.5" font-family="'Liberation Serif', serif" font-weight="normal" text-anchor="middle" fill="#000"  stroke="#000" stroke-width="0.08">5</text>
<text x="184.80" y="298.20" font-size="6.5" font-family="'Liberation Serif', serif" font-weight="normal" text-anchor="middle" fill="#000"  transform="translate(184.80 0) scale(0.935 1) translate(-184.80 0)">drug concentration µg/mL</text>
<text x="128.00" y="256.80" font-size="6.1" font-family="'Liberation Serif', serif" font-weight="normal" text-anchor="middle" fill="#000" transform="rotate(-90 128.00 256.80)">Stimulation index</text>
<polyline points="139.00,274.09 169.30,246.15 199.60,246.15 230.30,235.79" fill="none" stroke="#111" stroke-width="0.7" stroke-linejoin="round"/>
<rect x="137.95" y="272.59" width="2.1" height="3.0" fill="#000"/>
<rect x="168.25" y="244.65" width="2.1" height="3.0" fill="#000"/>
<line x1="169.30" y1="244.67" x2="169.30" y2="247.63" stroke="#111" stroke-width="0.7"/>
<line x1="168.20" y1="244.67" x2="170.40" y2="244.67" stroke="#111" stroke-width="0.7"/>
<line x1="168.20" y1="247.63" x2="170.40" y2="247.63" stroke="#111" stroke-width="0.7"/>
<rect x="198.55" y="244.65" width="2.1" height="3.0" fill="#000"/>
<line x1="199.60" y1="244.67" x2="199.60" y2="247.63" stroke="#111" stroke-width="0.7"/>
<line x1="198.50" y1="244.67" x2="200.70" y2="244.67" stroke="#111" stroke-width="0.7"/>
<line x1="198.50" y1="247.63" x2="200.70" y2="247.63" stroke="#111" stroke-width="0.7"/>
<rect x="229.25" y="234.29" width="2.1" height="3.0" fill="#000"/>
<line x1="230.30" y1="232.83" x2="230.30" y2="238.75" stroke="#111" stroke-width="0.7"/>
<line x1="229.20" y1="232.83" x2="231.40" y2="232.83" stroke="#111" stroke-width="0.7"/>
<line x1="229.20" y1="238.75" x2="231.40" y2="238.75" stroke="#111" stroke-width="0.7"/>
<polyline points="139.00,274.09 169.30,258.73 199.60,255.40 230.30,241.34" fill="none" stroke="#111" stroke-width="0.7" stroke-linejoin="round"/>
<rect x="137.95" y="272.59" width="2.1" height="3.0" fill="#000"/>
<rect x="168.25" y="257.23" width="2.1" height="3.0" fill="#000"/>
<rect x="198.55" y="253.90" width="2.1" height="3.0" fill="#000"/>
<rect x="229.25" y="239.84" width="2.1" height="3.0" fill="#000"/>
<line x1="230.30" y1="239.86" x2="230.30" y2="242.82" stroke="#111" stroke-width="0.7"/>
<line x1="229.20" y1="239.86" x2="231.40" y2="239.86" stroke="#111" stroke-width="0.7"/>
<line x1="229.20" y1="242.82" x2="231.40" y2="242.82" stroke="#111" stroke-width="0.7"/>
<polyline points="139.00,274.09 169.30,270.94 199.60,265.39 230.30,256.88" fill="none" stroke="#111" stroke-width="0.7" stroke-linejoin="round"/>
<rect x="137.95" y="272.59" width="2.1" height="3.0" fill="#000"/>
<rect x="168.25" y="269.44" width="2.1" height="3.0" fill="#000"/>
<rect x="198.55" y="263.89" width="2.1" height="3.0" fill="#000"/>
<rect x="229.25" y="255.38" width="2.1" height="3.0" fill="#000"/>
<polyline points="139.00,274.09 169.30,269.09 199.60,267.98 230.30,267.98" fill="none" stroke="#111" stroke-width="0.7" stroke-linejoin="round"/>
<rect x="137.95" y="272.59" width="2.1" height="3.0" fill="#000"/>
<rect x="168.25" y="267.59" width="2.1" height="3.0" fill="#000"/>
<rect x="198.55" y="266.48" width="2.1" height="3.0" fill="#000"/>
<rect x="229.25" y="266.48" width="2.1" height="3.0" fill="#000"/>
<line x1="139.50" y1="331.40" x2="139.50" y2="377.10" stroke="#1a1a1a" stroke-width="0.95"/>
<line x1="139.00" y1="376.60" x2="232.50" y2="376.60" stroke="#1a1a1a" stroke-width="0.95"/>
<line x1="138.30" y1="376.60" x2="139.50" y2="376.60" stroke="#000" stroke-width="0.8"/>
<text x="134.70" y="381.20" font-size="7.8" font-family="'Liberation Serif', serif" font-weight="normal" text-anchor="middle" fill="#000"  stroke="#000" stroke-width="0.08" transform="translate(134.70 0) scale(0.9 1) translate(-134.70 0)">0</text>
<line x1="138.30" y1="369.20" x2="139.50" y2="369.20" stroke="#000" stroke-width="0.8"/>
<text x="134.70" y="373.45" font-size="7.8" font-family="'Liberation Serif', serif" font-weight="normal" text-anchor="middle" fill="#000"  stroke="#000" stroke-width="0.08" transform="translate(134.70 0) scale(0.9 1) translate(-134.70 0)">2</text>
<line x1="138.30" y1="361.80" x2="139.50" y2="361.80" stroke="#000" stroke-width="0.8"/>
<text x="134.70" y="365.70" font-size="7.8" font-family="'Liberation Serif', serif" font-weight="normal" text-anchor="middle" fill="#000"  stroke="#000" stroke-width="0.08" transform="translate(134.70 0) scale(0.9 1) translate(-134.70 0)">4</text>
<line x1="138.30" y1="354.40" x2="139.50" y2="354.40" stroke="#000" stroke-width="0.8"/>
<text x="134.70" y="357.95" font-size="7.8" font-family="'Liberation Serif', serif" font-weight="normal" text-anchor="middle" fill="#000"  stroke="#000" stroke-width="0.08" transform="translate(134.70 0) scale(0.9 1) translate(-134.70 0)">6</text>
<line x1="138.30" y1="347.00" x2="139.50" y2="347.00" stroke="#000" stroke-width="0.8"/>
<text x="134.70" y="350.20" font-size="7.8" font-family="'Liberation Serif', serif" font-weight="normal" text-anchor="middle" fill="#000"  stroke="#000" stroke-width="0.08" transform="translate(134.70 0) scale(0.9 1) translate(-134.70 0)">8</text>
<line x1="138.30" y1="339.60" x2="139.50" y2="339.60" stroke="#000" stroke-width="0.8"/>
<text x="134.70" y="342.45" font-size="7.8" font-family="'Liberation Serif', serif" font-weight="normal" text-anchor="middle" fill="#000"  stroke="#000" stroke-width="0.08" transform="translate(134.70 0) scale(0.9 1) translate(-134.70 0)">10</text>
<line x1="138.30" y1="332.20" x2="139.50" y2="332.20" stroke="#000" stroke-width="0.8"/>
<text x="134.70" y="334.70" font-size="7.8" font-family="'Liberation Serif', serif" font-weight="normal" text-anchor="middle" fill="#000"  stroke="#000" stroke-width="0.08" transform="translate(134.70 0) scale(0.9 1) translate(-134.70 0)">12</text>
<line x1="139.50" y1="376.60" x2="139.50" y2="377.80" stroke="#000" stroke-width="0.8"/>
<text x="141.00" y="386.80" font-size="7.5" font-family="'Liberation Serif', serif" font-weight="normal" text-anchor="middle" fill="#000"  stroke="#000" stroke-width="0.08">0</text>
<line x1="170.40" y1="376.60" x2="170.40" y2="377.80" stroke="#000" stroke-width="0.8"/>
<text x="170.40" y="386.80" font-size="7.5" font-family="'Liberation Serif', serif" font-weight="normal" text-anchor="middle" fill="#000"  stroke="#000" stroke-width="0.08">0.1</text>
<line x1="201.70" y1="376.60" x2="201.70" y2="377.80" stroke="#000" stroke-width="0.8"/>
<text x="201.70" y="386.80" font-size="7.5" font-family="'Liberation Serif', serif" font-weight="normal" text-anchor="middle" fill="#000"  stroke="#000" stroke-width="0.08">1</text>
<line x1="232.00" y1="376.60" x2="232.00" y2="377.80" stroke="#000" stroke-width="0.8"/>
<text x="232.00" y="386.80" font-size="7.5" font-family="'Liberation Serif', serif" font-weight="normal" text-anchor="middle" fill="#000"  stroke="#000" stroke-width="0.08">5</text>
<text x="185.90" y="397.40" font-size="6.5" font-family="'Liberation Serif', serif" font-weight="normal" text-anchor="middle" fill="#000"  transform="translate(185.90 0) scale(0.935 1) translate(-185.90 0)">drug concentration µg/mL</text>
<text x="128.00" y="355.90" font-size="5.88" font-family="'Liberation Serif', serif" font-weight="normal" text-anchor="middle" fill="#000" transform="rotate(-90 128.00 355.90)">Stimulation index</text>
<polyline points="139.50,372.72 170.40,367.35 201.70,364.39 232.00,356.25" fill="none" stroke="#111" stroke-width="0.7" stroke-linejoin="round"/>
<rect x="138.45" y="371.22" width="2.1" height="3.0" fill="#000"/>
<rect x="169.35" y="365.85" width="2.1" height="3.0" fill="#000"/>
<rect x="200.65" y="362.89" width="2.1" height="3.0" fill="#000"/>
<rect x="230.95" y="354.75" width="2.1" height="3.0" fill="#000"/>
<line x1="232.00" y1="355.14" x2="232.00" y2="357.36" stroke="#111" stroke-width="0.7"/>
<line x1="230.90" y1="355.14" x2="233.10" y2="355.14" stroke="#111" stroke-width="0.7"/>
<line x1="230.90" y1="357.36" x2="233.10" y2="357.36" stroke="#111" stroke-width="0.7"/>
<polyline points="139.50,372.72 170.40,370.12 201.70,366.98 232.00,362.91" fill="none" stroke="#111" stroke-width="0.7" stroke-linejoin="round"/>
<rect x="138.45" y="371.22" width="2.1" height="3.0" fill="#000"/>
<rect x="169.35" y="368.62" width="2.1" height="3.0" fill="#000"/>
<rect x="200.65" y="365.48" width="2.1" height="3.0" fill="#000"/>
<rect x="230.95" y="361.41" width="2.1" height="3.0" fill="#000"/>
<polyline points="139.50,372.72 170.40,367.35 201.70,372.72 232.00,368.09" fill="none" stroke="#111" stroke-width="0.7" stroke-linejoin="round"/>
<rect x="138.45" y="371.22" width="2.1" height="3.0" fill="#000"/>
<rect x="169.35" y="365.85" width="2.1" height="3.0" fill="#000"/>
<rect x="200.65" y="371.22" width="2.1" height="3.0" fill="#000"/>
<rect x="230.95" y="366.59" width="2.1" height="3.0" fill="#000"/>
<polyline points="139.50,372.72 170.40,368.09 201.70,368.09 232.00,368.83" fill="none" stroke="#111" stroke-width="0.7" stroke-linejoin="round"/>
<rect x="138.45" y="371.22" width="2.1" height="3.0" fill="#000"/>
<rect x="169.35" y="366.59" width="2.1" height="3.0" fill="#000"/>
<rect x="200.65" y="366.59" width="2.1" height="3.0" fill="#000"/>
<rect x="230.95" y="367.33" width="2.1" height="3.0" fill="#000"/>
<text x="273.50" y="9.20" font-size="11.2" font-family="'Liberation Sans', sans-serif" font-weight="bold" text-anchor="start" fill="#000" stroke="#000" stroke-width="0.5">B</text>
<line x1="289.90" y1="16.50" x2="289.90" y2="59.70" stroke="#000" stroke-width="1.0"/>
<line x1="289.40" y1="59.20" x2="392.00" y2="59.20" stroke="#000" stroke-width="1.0"/>
<line x1="288.70" y1="59.20" x2="289.90" y2="59.20" stroke="#000" stroke-width="0.7"/>
<text x="289.10" y="61.10" font-size="5.5" font-family="'Liberation Serif', serif" font-weight="normal" text-anchor="end" fill="#000"  transform="translate(289.10 0) scale(0.92 1) translate(-289.10 0)">0</text>
<line x1="288.70" y1="53.30" x2="289.90" y2="53.30" stroke="#000" stroke-width="0.7"/>
<text x="289.10" y="55.20" font-size="5.5" font-family="'Liberation Serif', serif" font-weight="normal" text-anchor="end" fill="#000"  transform="translate(289.10 0) scale(0.92 1) translate(-289.10 0)">500</text>
<line x1="288.70" y1="47.40" x2="289.90" y2="47.40" stroke="#000" stroke-width="0.7"/>
<text x="289.10" y="49.30" font-size="5.5" font-family="'Liberation Serif', serif" font-weight="normal" text-anchor="end" fill="#000"  transform="translate(289.10 0) scale(0.92 1) translate(-289.10 0)">1000</text>
<line x1="288.70" y1="41.50" x2="289.90" y2="41.50" stroke="#000" stroke-width="0.7"/>
<text x="289.10" y="43.40" font-size="5.5" font-family="'Liberation Serif', serif" font-weight="normal" text-anchor="end" fill="#000"  transform="translate(289.10 0) scale(0.92 1) translate(-289.10 0)">1500</text>
<line x1="288.70" y1="35.60" x2="289.90" y2="35.60" stroke="#000" stroke-width="0.7"/>
<text x="289.10" y="37.50" font-size="5.5" font-family="'Liberation Serif', serif" font-weight="normal" text-anchor="end" fill="#000"  transform="translate(289.10 0) scale(0.92 1) translate(-289.10 0)">2000</text>
<line x1="288.70" y1="29.70" x2="289.90" y2="29.70" stroke="#000" stroke-width="0.7"/>
<text x="289.10" y="31.60" font-size="5.5" font-family="'Liberation Serif', serif" font-weight="normal" text-anchor="end" fill="#000"  transform="translate(289.10 0) scale(0.92 1) translate(-289.10 0)">2500</text>
<line x1="288.70" y1="23.80" x2="289.90" y2="23.80" stroke="#000" stroke-width="0.7"/>
<text x="289.10" y="25.70" font-size="5.5" font-family="'Liberation Serif', serif" font-weight="normal" text-anchor="end" fill="#000"  transform="translate(289.10 0) scale(0.92 1) translate(-289.10 0)">3000</text>
<line x1="288.70" y1="17.90" x2="289.90" y2="17.90" stroke="#000" stroke-width="0.7"/>
<text x="289.10" y="19.80" font-size="5.5" font-family="'Liberation Serif', serif" font-weight="normal" text-anchor="end" fill="#000"  transform="translate(289.10 0) scale(0.92 1) translate(-289.10 0)">3500</text>
<rect x="296.10" y="48.34" width="8" height="10.86" fill="#000"/>
<line x1="300.10" y1="48.11" x2="300.10" y2="48.34" stroke="#000" stroke-width="0.7"/>
<line x1="298.90" y1="48.11" x2="301.30" y2="48.11" stroke="#000" stroke-width="0.7"/>
<text x="300.10" y="66.40" font-size="5.5" font-family="'Liberation Serif', serif" font-weight="normal" text-anchor="middle" fill="#000"  transform="translate(300.10 0) scale(0.92 1) translate(-300.10 0)">DMSO</text>
<rect x="316.00" y="45.81" width="8" height="13.39" fill="#000"/>
<line x1="320.00" y1="45.45" x2="320.00" y2="45.81" stroke="#000" stroke-width="0.7"/>
<line x1="318.80" y1="45.45" x2="321.20" y2="45.45" stroke="#000" stroke-width="0.7"/>
<text x="320.00" y="66.40" font-size="5.5" font-family="'Liberation Serif', serif" font-weight="normal" text-anchor="middle" fill="#000"  transform="translate(320.00 0) scale(0.92 1) translate(-320.00 0)">Thal</text>
<rect x="335.80" y="32.41" width="8" height="26.79" fill="#000"/>
<line x1="339.80" y1="30.41" x2="339.80" y2="32.41" stroke="#000" stroke-width="0.7"/>
<line x1="338.60" y1="30.41" x2="341.00" y2="30.41" stroke="#000" stroke-width="0.7"/>
<text x="339.80" y="66.40" font-size="5.5" font-family="'Liberation Serif', serif" font-weight="normal" text-anchor="middle" fill="#000"  transform="translate(339.80 0) scale(0.92 1) translate(-339.80 0)">IMiD1</text>
<rect x="355.30" y="25.81" width="8" height="33.39" fill="#000"/>
<line x1="359.30" y1="24.27" x2="359.30" y2="25.81" stroke="#000" stroke-width="0.7"/>
<line x1="358.10" y1="24.27" x2="360.50" y2="24.27" stroke="#000" stroke-width="0.7"/>
<text x="359.30" y="66.40" font-size="5.5" font-family="'Liberation Serif', serif" font-weight="normal" text-anchor="middle" fill="#000"  transform="translate(359.30 0) scale(0.92 1) translate(-359.30 0)">IMiD2</text>
<rect x="375.20" y="35.48" width="8" height="23.72" fill="#000"/>
<line x1="379.20" y1="34.42" x2="379.20" y2="35.48" stroke="#000" stroke-width="0.7"/>
<line x1="378.00" y1="34.42" x2="380.40" y2="34.42" stroke="#000" stroke-width="0.7"/>
<text x="379.20" y="66.40" font-size="5.5" font-family="'Liberation Serif', serif" font-weight="normal" text-anchor="middle" fill="#000"  transform="translate(379.20 0) scale(0.92 1) translate(-379.20 0)">IMiD3</text>
<line x1="310.00" y1="59.20" x2="310.00" y2="60.40" stroke="#000" stroke-width="0.7"/>
<line x1="330.20" y1="59.20" x2="330.20" y2="60.40" stroke="#000" stroke-width="0.7"/>
<line x1="349.80" y1="59.20" x2="349.80" y2="60.40" stroke="#000" stroke-width="0.7"/>
<line x1="369.60" y1="59.20" x2="369.60" y2="60.40" stroke="#000" stroke-width="0.7"/>
<line x1="389.00" y1="59.20" x2="389.00" y2="60.40" stroke="#000" stroke-width="0.7"/>
<text x="277.10" y="38.90" font-size="5.2" font-family="'Liberation Serif', serif" font-weight="normal" text-anchor="middle" fill="#000" transform="rotate(-90 277.10 38.90)">IFN γ (pg/mL)</text>
<line x1="419.50" y1="18.50" x2="419.50" y2="59.70" stroke="#000" stroke-width="1.0"/>
<line x1="419.00" y1="59.20" x2="520.00" y2="59.20" stroke="#000" stroke-width="1.0"/>
<line x1="418.30" y1="59.20" x2="419.50" y2="59.20" stroke="#000" stroke-width="0.7"/>
<text x="415.20" y="61.10" font-size="5.5" font-family="'Liberation Serif', serif" font-weight="normal" text-anchor="middle" fill="#000" >0</text>
<line x1="418.30" y1="52.50" x2="419.50" y2="52.50" stroke="#000" stroke-width="0.7"/>
<text x="418.70" y="54.40" font-size="5.5" font-family="'Liberation Serif', serif" font-weight="normal" text-anchor="end" fill="#000"  transform="translate(418.70 0) scale(0.92 1) translate(-418.70 0)">1000</text>
<line x1="418.30" y1="45.80" x2="419.50" y2="45.80" stroke="#000" stroke-width="0.7"/>
<text x="418.70" y="47.70" font-size="5.5" font-family="'Liberation Serif', serif" font-weight="normal" text-anchor="end" fill="#000"  transform="translate(418.70 0) scale(0.92 1) translate(-418.70 0)">2000</text>
<line x1="418.30" y1="39.10" x2="419.50" y2="39.10" stroke="#000" stroke-width="0.7"/>
<text x="418.70" y="41.00" font-size="5.5" font-family="'Liberation Serif', serif" font-weight="normal" text-anchor="end" fill="#000"  transform="translate(418.70 0) scale(0.92 1) translate(-418.70 0)">3000</text>
<line x1="418.30" y1="32.40" x2="419.50" y2="32.40" stroke="#000" stroke-width="0.7"/>
<text x="418.70" y="34.30" font-size="5.5" font-family="'Liberation Serif', serif" font-weight="normal" text-anchor="end" fill="#000"  transform="translate(418.70 0) scale(0.92 1) translate(-418.70 0)">4000</text>
<line x1="418.30" y1="25.70" x2="419.50" y2="25.70" stroke="#000" stroke-width="0.7"/>
<text x="418.70" y="27.60" font-size="5.5" font-family="'Liberation Serif', serif" font-weight="normal" text-anchor="end" fill="#000"  transform="translate(418.70 0) scale(0.92 1) translate(-418.70 0)">5000</text>
<line x1="418.30" y1="19.00" x2="419.50" y2="19.00" stroke="#000" stroke-width="0.7"/>
<text x="418.70" y="20.90" font-size="5.5" font-family="'Liberation Serif', serif" font-weight="normal" text-anchor="end" fill="#000"  transform="translate(418.70 0) scale(0.92 1) translate(-418.70 0)">6000</text>
<rect x="426.30" y="58.06" width="8" height="1.14" fill="#000"/>
<text x="430.30" y="65.70" font-size="5.5" font-family="'Liberation Serif', serif" font-weight="normal" text-anchor="middle" fill="#000"  transform="translate(430.30 0) scale(0.92 1) translate(-430.30 0)">DMSO</text>
<rect x="446.00" y="53.91" width="8" height="5.29" fill="#000"/>
<text x="450.00" y="65.70" font-size="5.5" font-family="'Liberation Serif', serif" font-weight="normal" text-anchor="middle" fill="#000"  transform="translate(450.00 0) scale(0.92 1) translate(-450.00 0)">Thal</text>
<rect x="465.80" y="45.60" width="8" height="13.60" fill="#000"/>
<line x1="469.80" y1="44.93" x2="469.80" y2="45.60" stroke="#000" stroke-width="0.7"/>
<line x1="468.60" y1="44.93" x2="471.00" y2="44.93" stroke="#000" stroke-width="0.7"/>
<text x="469.80" y="65.70" font-size="5.5" font-family="'Liberation Serif', serif" font-weight="normal" text-anchor="middle" fill="#000"  transform="translate(469.80 0) scale(0.92 1) translate(-469.80 0)">IMiD1</text>
<rect x="485.40" y="48.75" width="8" height="10.45" fill="#000"/>
<line x1="489.40" y1="48.35" x2="489.40" y2="48.75" stroke="#000" stroke-width="0.7"/>
<line x1="488.20" y1="48.35" x2="490.60" y2="48.35" stroke="#000" stroke-width="0.7"/>
<text x="489.40" y="65.70" font-size="5.5" font-family="'Liberation Serif', serif" font-weight="normal" text-anchor="middle" fill="#000"  transform="translate(489.40 0) scale(0.92 1) translate(-489.40 0)">IMiD2</text>
<rect x="505.00" y="27.31" width="8" height="31.89" fill="#000"/>
<line x1="509.00" y1="25.97" x2="509.00" y2="27.31" stroke="#000" stroke-width="0.7"/>
<line x1="507.80" y1="25.97" x2="510.20" y2="25.97" stroke="#000" stroke-width="0.7"/>
<text x="509.00" y="65.70" font-size="5.5" font-family="'Liberation Serif', serif" font-weight="normal" text-anchor="middle" fill="#000"  transform="translate(509.00 0) scale(0.92 1) translate(-509.00 0)">IMiD3</text>
<line x1="440.00" y1="59.20" x2="440.00" y2="60.40" stroke="#000" stroke-width="0.7"/>
<line x1="459.80" y1="59.20" x2="459.80" y2="60.40" stroke="#000" stroke-width="0.7"/>
<line x1="479.60" y1="59.20" x2="479.60" y2="60.40" stroke="#000" stroke-width="0.7"/>
<line x1="499.20" y1="59.20" x2="499.20" y2="60.40" stroke="#000" stroke-width="0.7"/>
<line x1="518.50" y1="59.20" x2="518.50" y2="60.40" stroke="#000" stroke-width="0.7"/>
<text x="406.90" y="38.50" font-size="4.95" font-family="'Liberation Serif', serif" font-weight="normal" text-anchor="middle" fill="#000" transform="rotate(-90 406.90 38.50)">IL2 (pg/mL)</text>
<text x="272.40" y="88.30" font-size="11.5" font-family="'Liberation Sans', sans-serif" font-weight="bold" text-anchor="start" fill="#000" stroke="#000" stroke-width="0.5">C</text>
<line x1="288.30" y1="93.70" x2="288.30" y2="135.30" stroke="#000" stroke-width="1.0"/>
<line x1="287.80" y1="135.10" x2="386.50" y2="135.10" stroke="#000" stroke-width="0.9"/>
<line x1="287.10" y1="134.80" x2="288.30" y2="134.80" stroke="#000" stroke-width="0.8"/>
<text x="286.50" y="138.11" font-size="7.0" font-family="'Liberation Serif', serif" font-weight="normal" text-anchor="end" fill="#000"  stroke="#000" stroke-width="0.08">0</text>
<line x1="287.10" y1="126.70" x2="288.30" y2="126.70" stroke="#000" stroke-width="0.8"/>
<text x="286.50" y="130.01" font-size="7.0" font-family="'Liberation Serif', serif" font-weight="normal" text-anchor="end" fill="#000"  stroke="#000" stroke-width="0.08">2</text>
<line x1="287.10" y1="118.60" x2="288.30" y2="118.60" stroke="#000" stroke-width="0.8"/>
<text x="286.50" y="121.91" font-size="7.0" font-family="'Liberation Serif', serif" font-weight="normal" text-anchor="end" fill="#000"  stroke="#000" stroke-width="0.08">4</text>
<line x1="287.10" y1="110.50" x2="288.30" y2="110.50" stroke="#000" stroke-width="0.8"/>
<text x="286.50" y="113.81" font-size="7.0" font-family="'Liberation Serif', serif" font-weight="normal" text-anchor="end" fill="#000"  stroke="#000" stroke-width="0.08">6</text>
<line x1="287.10" y1="102.40" x2="288.30" y2="102.40" stroke="#000" stroke-width="0.8"/>
<text x="286.50" y="105.71" font-size="7.0" font-family="'Liberation Serif', serif" font-weight="normal" text-anchor="end" fill="#000"  stroke="#000" stroke-width="0.08">8</text>
<line x1="287.10" y1="94.30" x2="288.30" y2="94.30" stroke="#000" stroke-width="0.8"/>
<text x="286.50" y="97.61" font-size="7.0" font-family="'Liberation Serif', serif" font-weight="normal" text-anchor="end" fill="#000"  stroke="#000" stroke-width="0.08">10</text>
<text x="301.20" y="145.28" font-size="6.8" font-family="'Liberation Serif', serif" font-weight="normal" text-anchor="middle" fill="#000" >0</text>
<text x="325.40" y="145.28" font-size="6.8" font-family="'Liberation Serif', serif" font-weight="normal" text-anchor="middle" fill="#000" >0.1</text>
<text x="349.20" y="145.28" font-size="6.8" font-family="'Liberation Serif', serif" font-weight="normal" text-anchor="middle" fill="#000" >1</text>
<text x="373.90" y="145.28" font-size="6.8" font-family="'Liberation Serif', serif" font-weight="normal" text-anchor="middle" fill="#000" >5</text>
<text x="334.10" y="150.80" font-size="6.1" font-family="'Liberation Serif', serif" font-weight="normal" text-anchor="middle" fill="#000" >Thal concentration µg/mL</text>
<text x="278.10" y="116.00" font-size="6.2" font-family="'Liberation Serif', serif" font-weight="normal" text-anchor="middle" fill="#000" transform="rotate(-90 278.10 116.00)">Stimulation index</text>
<polyline points="301.20,130.75 325.40,128.73 349.20,120.63 373.90,110.10" fill="none" stroke="#111" stroke-width="0.75" stroke-linejoin="round"/>
<circle cx="301.20" cy="130.75" r="1.4" fill="#000"/>
<circle cx="325.40" cy="128.73" r="1.4" fill="#000"/>
<circle cx="349.20" cy="120.63" r="1.4" fill="#000"/>
<line x1="373.90" y1="109.08" x2="373.90" y2="111.11" stroke="#111" stroke-width="0.7"/>
<line x1="372.80" y1="109.08" x2="375.00" y2="109.08" stroke="#111" stroke-width="0.7"/>
<line x1="372.80" y1="111.11" x2="375.00" y2="111.11" stroke="#111" stroke-width="0.7"/>
<circle cx="373.90" cy="110.10" r="1.4" fill="#000"/>
<polyline points="301.20,130.75 325.40,128.32 349.20,125.89 373.90,120.63" fill="none" stroke="#111" stroke-width="0.75" stroke-linejoin="round"/>
<rect x="299.95" y="129.30" width="2.5" height="2.9" fill="#000"/>
<rect x="324.15" y="126.87" width="2.5" height="2.9" fill="#000"/>
<rect x="347.95" y="124.44" width="2.5" height="2.9" fill="#000"/>
<rect x="372.65" y="119.18" width="2.5" height="2.9" fill="#000"/>
<polyline points="301.20,130.75 325.40,128.73 349.20,126.30 373.90,125.49" fill="none" stroke="#111" stroke-width="0.75" stroke-linejoin="round"/>
<polygon points="301.20,128.95 299.70,131.95 302.70,131.95" fill="#000"/>
<polygon points="325.40,126.93 323.90,129.93 326.90,129.93" fill="#000"/>
<polygon points="349.20,124.50 347.70,127.50 350.70,127.50" fill="#000"/>
<polygon points="373.90,123.69 372.40,126.69 375.40,126.69" fill="#000"/>
<line x1="421.30" y1="93.70" x2="421.30" y2="135.30" stroke="#000" stroke-width="1.0"/>
<line x1="420.80" y1="135.10" x2="520.00" y2="135.10" stroke="#000" stroke-width="0.9"/>
<line x1="420.10" y1="134.80" x2="421.30" y2="134.80" stroke="#000" stroke-width="0.8"/>
<text x="419.50" y="137.55" font-size="6.2" font-family="'Liberation Sans', sans-serif" font-weight="normal" text-anchor="end" fill="#000" >0</text>
<line x1="420.10" y1="126.70" x2="421.30" y2="126.70" stroke="#000" stroke-width="0.8"/>
<text x="419.50" y="129.23" font-size="6.2" font-family="'Liberation Sans', sans-serif" font-weight="normal" text-anchor="end" fill="#000" >2</text>
<line x1="420.10" y1="118.60" x2="421.30" y2="118.60" stroke="#000" stroke-width="0.8"/>
<text x="419.50" y="120.91" font-size="6.2" font-family="'Liberation Sans', sans-serif" font-weight="normal" text-anchor="end" fill="#000" >4</text>
<line x1="420.10" y1="110.50" x2="421.30" y2="110.50" stroke="#000" stroke-width="0.8"/>
<text x="419.50" y="112.59" font-size="6.2" font-family="'Liberation Sans', sans-serif" font-weight="normal" text-anchor="end" fill="#000" >6</text>
<line x1="420.10" y1="102.40" x2="421.30" y2="102.40" stroke="#000" stroke-width="0.8"/>
<text x="419.50" y="104.27" font-size="6.2" font-family="'Liberation Sans', sans-serif" font-weight="normal" text-anchor="end" fill="#000" >8</text>
<line x1="420.10" y1="94.30" x2="421.30" y2="94.30" stroke="#000" stroke-width="0.8"/>
<text x="419.50" y="95.95" font-size="6.2" font-family="'Liberation Sans', sans-serif" font-weight="normal" text-anchor="end" fill="#000" >10</text>
<text x="434.50" y="145.00" font-size="6.0" font-family="'Liberation Sans', sans-serif" font-weight="normal" text-anchor="middle" fill="#000" >0</text>
<text x="459.20" y="145.00" font-size="6.0" font-family="'Liberation Sans', sans-serif" font-weight="normal" text-anchor="middle" fill="#000" >0.1</text>
<text x="483.20" y="145.00" font-size="6.0" font-family="'Liberation Sans', sans-serif" font-weight="normal" text-anchor="middle" fill="#000" >1</text>
<text x="507.00" y="145.00" font-size="6.0" font-family="'Liberation Sans', sans-serif" font-weight="normal" text-anchor="middle" fill="#000" >5</text>
<text x="469.80" y="150.80" font-size="6.1" font-family="'Liberation Serif', serif" font-weight="normal" text-anchor="middle" fill="#000" >IMiD2 concentration µg/mL</text>
<text x="408.70" y="113.70" font-size="6.3" font-family="'Liberation Serif', serif" font-weight="normal" text-anchor="middle" fill="#000" transform="rotate(-90 408.70 113.70)">Stimulation index</text>
<polyline points="433.80,130.34 457.80,112.93 482.20,96.12 506.50,105.64" fill="none" stroke="#111" stroke-width="0.75" stroke-linejoin="round"/>
<rect x="432.55" y="128.90" width="2.5" height="2.9" fill="#000"/>
<line x1="457.80" y1="111.92" x2="457.80" y2="113.94" stroke="#111" stroke-width="0.7"/>
<line x1="456.70" y1="111.92" x2="458.90" y2="111.92" stroke="#111" stroke-width="0.7"/>
<line x1="456.70" y1="113.94" x2="458.90" y2="113.94" stroke="#111" stroke-width="0.7"/>
<rect x="456.55" y="111.48" width="2.5" height="2.9" fill="#000"/>
<line x1="482.20" y1="94.70" x2="482.20" y2="97.54" stroke="#111" stroke-width="0.7"/>
<line x1="481.10" y1="94.70" x2="483.30" y2="94.70" stroke="#111" stroke-width="0.7"/>
<line x1="481.10" y1="97.54" x2="483.30" y2="97.54" stroke="#111" stroke-width="0.7"/>
<rect x="480.95" y="94.67" width="2.5" height="2.9" fill="#000"/>
<line x1="506.50" y1="104.43" x2="506.50" y2="106.86" stroke="#111" stroke-width="0.7"/>
<line x1="505.40" y1="104.43" x2="507.60" y2="104.43" stroke="#111" stroke-width="0.7"/>
<line x1="505.40" y1="106.86" x2="507.60" y2="106.86" stroke="#111" stroke-width="0.7"/>
<rect x="505.25" y="104.19" width="2.5" height="2.9" fill="#000"/>
<polyline points="433.80,130.34 457.80,116.98 482.20,109.29 506.50,114.55" fill="none" stroke="#111" stroke-width="0.75" stroke-linejoin="round"/>
<polygon points="433.80,128.54 432.30,131.54 435.30,131.54" fill="#000"/>
<polygon points="457.80,115.18 456.30,118.18 459.30,118.18" fill="#000"/>
<line x1="482.20" y1="108.07" x2="482.20" y2="110.50" stroke="#111" stroke-width="0.7"/>
<line x1="481.10" y1="108.07" x2="483.30" y2="108.07" stroke="#111" stroke-width="0.7"/>
<line x1="481.10" y1="110.50" x2="483.30" y2="110.50" stroke="#111" stroke-width="0.7"/>
<polygon points="482.20,107.49 480.70,110.49 483.70,110.49" fill="#000"/>
<polygon points="506.50,112.75 505.00,115.75 508.00,115.75" fill="#000"/>
<polyline points="433.80,130.34 457.80,118.60 482.20,116.58 506.50,119.01" fill="none" stroke="#111" stroke-width="0.75" stroke-linejoin="round"/>
<circle cx="433.80" cy="130.34" r="1.4" fill="#000"/>
<circle cx="457.80" cy="118.60" r="1.4" fill="#000"/>
<circle cx="482.20" cy="116.58" r="1.4" fill="#000"/>
<circle cx="506.50" cy="119.01" r="1.4" fill="#000"/>
</svg>
</body></html>
